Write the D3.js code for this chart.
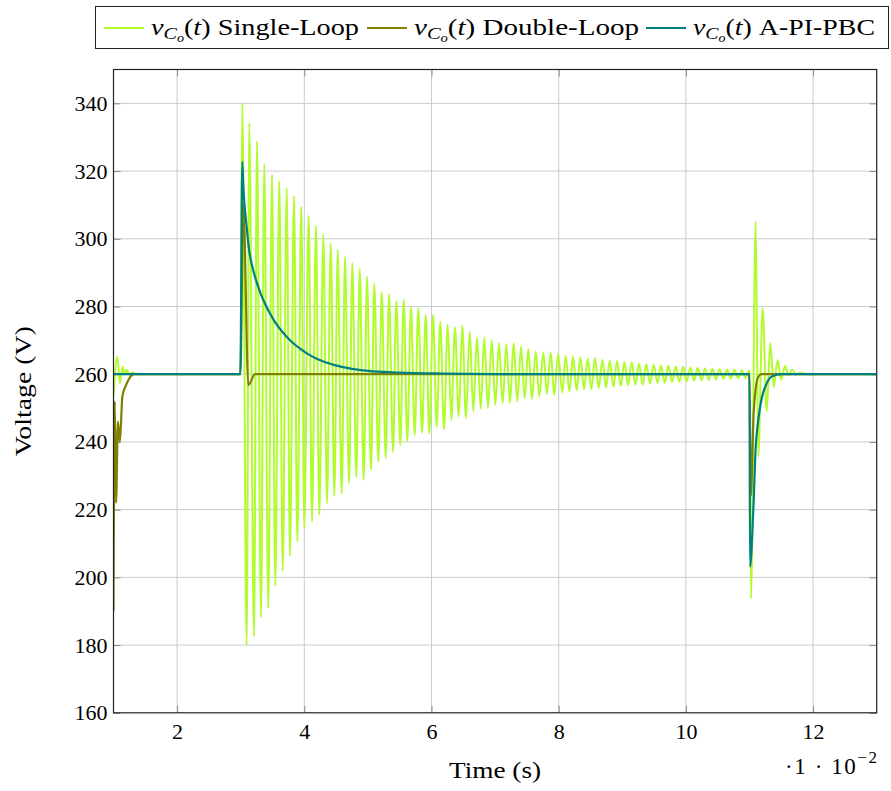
<!DOCTYPE html>
<html>
<head>
<meta charset="utf-8">
<script src="https://cdn.jsdelivr.net/npm/d3@7"></script>
<style>
  html, body { margin: 0; padding: 0; background: #fff; }
  svg text { font-family: "Liberation Serif", "Times New Roman", serif; fill: #000; }
</style>
</head>
<body>
<svg id="chart" width="891" height="791"></svg>
<script>
// ---- axis ticks ----
const xTicks = [2, 4, 6, 8, 10, 12];
const yTicks = [160, 180, 200, 220, 240, 260, 280, 300, 320, 340];

// ---- series names ----
const seriesNames = ["Single-Loop", "Double-Loop", "A-PI-PBC"];
const seriesColors = ["#b0fc2c", "#808000", "#008080"];

// ---- Single-Loop: start-up transient (t in 10^-2 s, V) ----
const slStartT = [1.0, 1.06, 1.10, 1.145, 1.176, 1.207, 1.25, 1.30, 1.36, 1.45];
const slStartV = [253.4, 265.2, 257.4, 262.2, 259.9, 261.3, 259.8, 260.6, 260.0, 260.0];

// ---- Single-Loop: oscillation after the reference step, peaks ----
const slPeakT = [3.025, 3.135, 3.256, 3.371, 3.492, 3.607, 3.723, 3.838, 3.953, 4.069,
  4.184, 4.299, 4.415, 4.525, 4.640, 4.755, 4.871, 4.986, 5.101, 5.217,
  5.332, 5.447, 5.563, 5.678, 5.792, 5.909, 6.024, 6.138, 6.255, 6.369,
  6.484, 6.601, 6.715, 6.830, 6.946, 7.061, 7.176, 7.292, 7.407, 7.522,
  7.638, 7.758, 7.874, 7.989, 8.110, 8.225, 8.341, 8.456, 8.571, 8.687,
  8.802, 8.917, 9.033, 9.148, 9.263, 9.379, 9.494, 9.609, 9.725, 9.840,
  9.955, 10.071, 10.186, 10.301, 10.417, 10.532, 10.647, 10.763, 10.878, 10.993];
const slPeakV = [340, 334.1, 328.7, 322, 319, 317.1, 314.9, 312.6, 309.5, 306.9,
  303.8, 301.2, 298.7, 296.7, 294.6, 292.8, 291.1, 288.8, 286.7, 284.2,
  283.7, 281.7, 282, 279.8, 279.5, 277.5, 277.5, 275.4, 274.6, 273.9,
  274.3, 272.6, 270.9, 270.9, 270.1, 269.2, 269, 269.2, 268.2, 267.5,
  266.7, 266.4, 266.4, 266, 265.4, 265.2, 265.0, 264.6, 264.8, 264.3,
  264.0, 263.9, 263.6, 263.5, 263.2, 263.0, 262.9, 262.6, 262.5, 262.3,
  262.2, 262.0, 261.9, 261.8, 261.6, 261.5, 261.4, 261.3, 261.2, 261.1];

// ---- Single-Loop: oscillation after the reference step, troughs ----
const slTroughT = [3.094, 3.209, 3.319, 3.434, 3.544, 3.660, 3.775, 3.890, 4.000, 4.121,
  4.236, 4.357, 4.472, 4.588, 4.703, 4.818, 4.934, 5.049, 5.164, 5.280,
  5.395, 5.509, 5.619, 5.736, 5.851, 5.965, 6.082, 6.197, 6.311, 6.428,
  6.542, 6.657, 6.774, 6.888, 7.003, 7.119, 7.233, 7.349, 7.465, 7.579,
  7.695, 7.816, 7.931, 8.057, 8.168, 8.283, 8.398, 8.514, 8.629, 8.744,
  8.860, 8.975, 9.090, 9.206, 9.321, 9.436, 9.552, 9.667, 9.782, 9.898,
  10.013, 10.128, 10.244, 10.359, 10.474, 10.590, 10.705, 10.820, 10.936];
const slTroughV = [180, 182.5, 188.2, 190.9, 197.5, 201.9, 206.3, 210.6, 214.7, 216.5,
  218.4, 221.9, 224, 224.8, 227.8, 229.6, 228.8, 231.7, 234.2, 235.2,
  237.1, 239.1, 240.3, 242, 242.7, 242.5, 244.5, 243.7, 246.5, 247.5,
  247, 249, 249.7, 250, 250.9, 251.4, 251.6, 251.9, 252.9, 252.6,
  253.4, 254.2, 253.9, 254.6, 254.9, 255.2, 255.5, 255.6, 255.9, 256.1,
  256.3, 256.5, 256.7, 256.9, 257.0, 257.2, 257.4, 257.5, 257.7, 257.8,
  257.9, 258.1, 258.2, 258.3, 258.5, 258.6, 258.7, 258.8, 258.9];

// ---- Single-Loop: load step response ----
const slLoadT = [11.024, 11.097, 11.138, 11.207, 11.270, 11.327, 11.381, 11.443, 11.495, 11.558, 11.610, 11.673, 11.73, 11.80, 11.90, 13.0];
const slLoadV = [193.8, 305.1, 235.7, 279.5, 249.0, 269.2, 256.3, 264.2, 258.3, 262.4, 259.8, 261.3, 259.9, 260.4, 260.0, 260.0];

// ---- Double-Loop ----
const dlT = [1.0, 1.02, 1.04, 1.07, 1.10, 1.14, 1.19, 1.25, 1.32, 2.995, 3.041, 3.120, 3.225, 11.0, 11.02, 11.065, 11.095, 11.14, 11.19, 13.0];
const dlV = [190.0, 252.0, 222.0, 246.0, 240.0, 253.5, 256.5, 258.8, 260.0, 260.0, 310.5, 256.8, 260.0, 260.0, 224.0, 248.5, 255.4, 259.3, 260.0, 260.0];

// ---- A-PI-PBC ----
const apT = [1.0, 2.995, 3.025, 3.041, 3.094, 3.13, 3.20, 3.30, 3.39, 3.52, 3.65, 3.80, 3.96, 4.10, 4.25, 4.49, 4.75, 5.00, 5.50, 6.20, 7.00, 8.00,
  11.0, 11.008, 11.06, 11.098, 11.138, 11.192, 11.271, 11.35, 11.506, 13.0];
const apV = [260.0, 260.0, 322.8, 315.5, 303.5, 297.0, 290.5, 284.5, 280.5, 276.0, 272.6, 269.6, 267.2, 265.5, 264.1, 262.6, 261.6, 261.0, 260.5, 260.2, 260.05, 260.0,
  260.0, 203.1, 219.9, 238.6, 246.5, 252.9, 257.3, 259.3, 260.0, 260.0];

// ---- assemble point lists ----
const zip = (ts, vs) => ts.map((t, i) => ({ t, v: vs[i] }));
const singleLoop = [
  ...zip(slStartT, slStartV),
  { t: 2.995, v: 260 },
  ...zip(slPeakT, slPeakV).concat(zip(slTroughT, slTroughV)).sort((a, b) => a.t - b.t),
  { t: 11.0, v: 260 },
  ...zip(slLoadT, slLoadV)
];
const doubleLoop = zip(dlT, dlV);
const apiPbc = zip(apT, apV);
const allSeries = [singleLoop, doubleLoop, apiPbc];

// ---- layout ----
const svg = d3.select("#chart");
const plot = { left: 113.5, right: 876.7, top: 69.5, bottom: 712.8 };
const x = d3.scaleLinear().domain([1, 13]).range([plot.left, plot.right]);
const y = d3.scaleLinear().domain([160, 350]).range([plot.bottom, plot.top]);

svg.append("rect").attr("width", 891).attr("height", 791).attr("fill", "#fff");

// grid
const grid = svg.append("g").attr("stroke", "#cbcbcb").attr("stroke-width", 1);
grid.selectAll("line.gx").data(xTicks).join("line")
  .attr("x1", d => x(d)).attr("x2", d => x(d))
  .attr("y1", plot.top).attr("y2", plot.bottom);
grid.selectAll("line.gy").data(yTicks.filter(d => d > 160)).join("line")
  .attr("x1", plot.left).attr("x2", plot.right)
  .attr("y1", d => y(d)).attr("y2", d => y(d));

// axes (ticks drawn inward on all four sides)
const tickLen = 7;
const bottomAxis = d3.axisBottom(x).tickValues(xTicks).tickSize(-tickLen).tickPadding(tickLen + 4).tickFormat(d3.format("d"));
const topAxis = d3.axisTop(x).tickValues(xTicks).tickSize(-tickLen).tickFormat("");
const leftAxis = d3.axisLeft(y).tickValues(yTicks).tickSize(-tickLen).tickPadding(tickLen - 1).tickFormat(d3.format("d"));
const rightAxis = d3.axisRight(y).tickValues(yTicks).tickSize(-tickLen).tickFormat("");

function styleAxis(g) {
  g.select(".domain").remove();
  g.selectAll(".tick line").attr("stroke", "#8a8a8a").attr("stroke-width", 1);
  g.selectAll(".tick text").attr("font-family", "Liberation Serif, serif").attr("font-size", 22).attr("fill", "#000");
}
svg.append("g").attr("transform", `translate(0,${plot.bottom})`).call(bottomAxis).call(styleAxis);
svg.append("g").attr("transform", `translate(0,${plot.top})`).call(topAxis).call(styleAxis);
svg.append("g").attr("transform", `translate(${plot.left},0)`).call(leftAxis).call(styleAxis);
svg.append("g").attr("transform", `translate(${plot.right},0)`).call(rightAxis).call(styleAxis);

// data lines
svg.append("clipPath").attr("id", "plotclip").append("rect")
  .attr("x", plot.left).attr("y", plot.top)
  .attr("width", plot.right - plot.left).attr("height", plot.bottom - plot.top);
const line = d3.line().x(d => x(d.t)).y(d => y(d.v)).curve(d3.curveMonotoneX);
const widths = [2, 2.2, 2.2];
svg.append("g").attr("clip-path", "url(#plotclip)")
  .selectAll("path").data(allSeries).join("path")
  .attr("d", line)
  .attr("fill", "none")
  .attr("stroke", (d, i) => seriesColors[i])
  .attr("stroke-width", (d, i) => widths[i])
  .attr("stroke-linejoin", "round");

// frame
svg.append("rect")
  .attr("x", plot.left).attr("y", plot.top)
  .attr("width", plot.right - plot.left).attr("height", plot.bottom - plot.top)
  .attr("fill", "none").attr("stroke", "#222").attr("stroke-width", 1.2);

// axis titles
svg.append("text").attr("x", (plot.left + plot.right) / 2).attr("y", 778)
  .attr("text-anchor", "middle").attr("font-size", 23)
  .attr("textLength", 92).attr("lengthAdjust", "spacingAndGlyphs").text("Time (s)");
svg.append("text")
  .attr("transform", `translate(31,${(plot.top + plot.bottom) / 2}) rotate(-90)`)
  .attr("text-anchor", "middle").attr("font-size", 23)
  .attr("textLength", 130).attr("lengthAdjust", "spacingAndGlyphs").text("Voltage (V)");

// scale factor label
const sf = svg.append("text").attr("x", 877).attr("y", 774).attr("text-anchor", "end").attr("font-size", 23)
  .attr("textLength", 92).attr("lengthAdjust", "spacing");
sf.append("tspan").text("\u00b71 \u00b7 10");
sf.append("tspan").attr("dy", -11).attr("font-size", 17).text("\u22122");

// legend
const legend = svg.append("g");
legend.append("rect").attr("x", 95.5).attr("y", 6.5).attr("width", 793).attr("height", 42)
  .attr("fill", "#fff").attr("stroke", "#222").attr("stroke-width", 1);
const legendLineX = [104, 367, 646];
const legendTextW = [208, 225, 182];
seriesNames.forEach((name, i) => {
  const x0 = legendLineX[i];
  legend.append("line").attr("x1", x0).attr("x2", x0 + 40).attr("y1", 28).attr("y2", 28)
    .attr("stroke", seriesColors[i]).attr("stroke-width", 2);
  const t = legend.append("text").attr("x", x0 + 47).attr("y", 35).attr("font-size", 24)
    .attr("textLength", legendTextW[i]).attr("lengthAdjust", "spacingAndGlyphs");
  t.append("tspan").attr("font-style", "italic").text("v");
  t.append("tspan").attr("font-style", "italic").attr("font-size", 17).attr("dy", 4).text("C");
  t.append("tspan").attr("font-style", "italic").attr("font-size", 12).attr("dy", 3).text("o");
  t.append("tspan").attr("dy", -7).text("(");
  t.append("tspan").attr("font-style", "italic").text("t");
  t.append("tspan").text(")");
  t.append("tspan").text("\u00a0" + name);
});
</script>
</body>
</html>
